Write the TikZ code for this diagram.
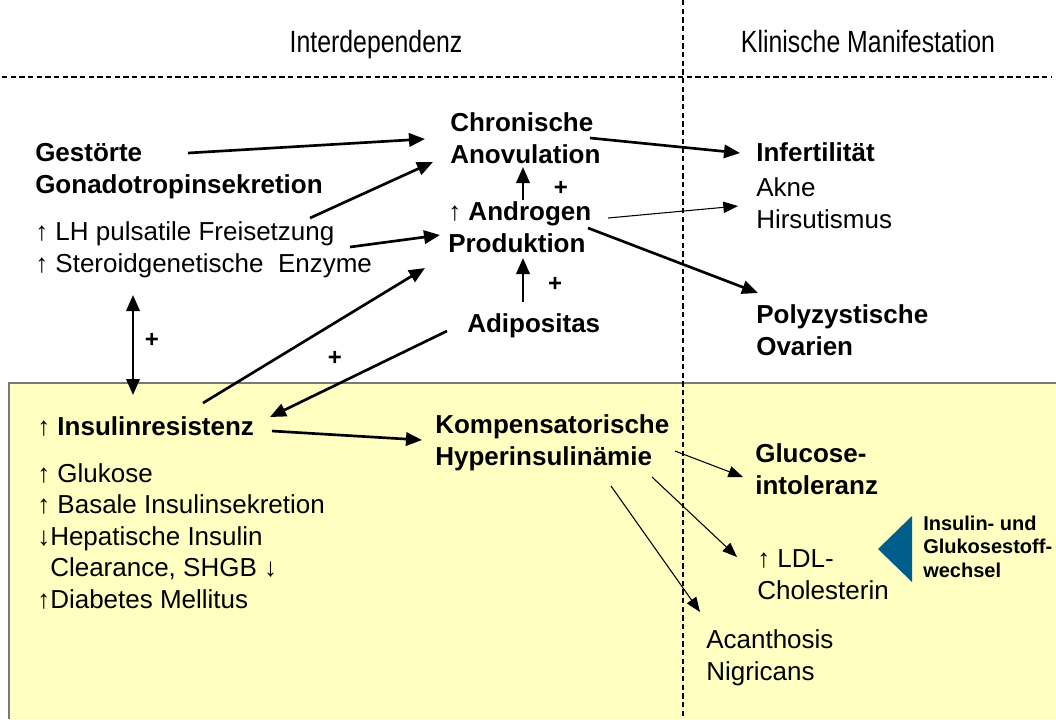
\documentclass[tikz,border=0pt]{standalone}
\usepackage{fontspec}
\setmainfont{Liberation Sans}
\newfontfamily\hdrfont[FakeStretch=0.81]{Liberation Sans}
\usetikzlibrary{arrows.meta}
\definecolor{boxyellow}{RGB}{255,255,194}
\definecolor{boxgray}{RGB}{120,120,120}
\definecolor{triblue}{RGB}{0,94,140}
\tikzset{
  txt/.style={anchor=base west, inner sep=0pt, align=left, font={\fontsize{19.5pt}{23.625pt}\selectfont}},
  btxt/.style={txt, font={\fontsize{19.5pt}{23.625pt}\selectfont\bfseries}},
  small/.style={anchor=base west, inner sep=0pt, align=left, font={\fontsize{15pt}{17.6pt}\selectfont\bfseries}},
  hdr/.style={anchor=base, inner sep=0pt, font={\hdrfont\fontsize{23pt}{26pt}\selectfont}},
  plus/.style={anchor=center, inner sep=0pt, font={\fontsize{18pt}{22pt}\selectfont\bfseries}},
  thickarr/.style={line width=2pt, -{Triangle[length=12pt,width=10pt]}},
  dblarr/.style={line width=2pt, {Triangle[length=12pt,width=10pt]}-{Triangle[length=12pt,width=10pt]}},
  thinarr/.style={line width=0.8pt, -{Triangle[length=11pt,width=8.5pt]}},
  dashline/.style={line width=0.8pt, dash pattern=on 4pt off 2.5pt},
}
\begin{document}
\begin{tikzpicture}[x=0.75pt,y=-0.75pt]
\useasboundingbox (0,0) rectangle (1056,719);
% yellow area
\fill[boxyellow] (9,383) rectangle (1056,719);
\draw[boxgray, line width=1.2pt] (9,719) -- (9,383) -- (1056,383);
% dashed separators
\draw[dashline] (683,0) -- (683,719);
\draw[dashline] (2,77) -- (1052,77);
% headers
\node[hdr] (hL) at (376,52) {Interdependenz};
\node[hdr] (hR) at (868,52) {Klinische Manifestation};
% text blocks (anchor = baseline of last line)
\node[btxt] (gest) at (35,193) {Gestörte\\Gonadotropinsekretion};
\node[txt] (lh) at (35,272) {↑ LH pulsatile Freisetzung\\↑ Steroidgenetische~ Enzyme};
\node[btxt] (chron) at (450,163) {Chronische\\Anovulation};
\node[btxt] (andro) at (448,252) {{\mdseries↑} Androgen\\Produktion};
\node[btxt] (adip) at (467,332) {Adipositas};
\node[btxt] (infert) at (756,161) {Infertilität};
\node[txt] (akne) at (756,228) {Akne\\Hirsutismus};
\node[btxt] (poly) at (756,355) {Polyzystische\\Ovarien};
\node[btxt] (insres) at (37,435) {{\mdseries↑} Insulinresistenz};
\node[txt] (glu) at (37,608) {↑ Glukose\\↑ Basale Insulinsekretion\\↓Hepatische Insulin\\\hspace*{9.75pt}Clearance, SHGB ↓\\↑Diabetes Mellitus};
\node[btxt] (kompen) at (435,465) {Kompensatorische\\Hyperinsulinämie};
\node[btxt] (gluc) at (755,494) {Glucose-\\intoleranz};
\node[txt] (ldl) at (757,599) {↑ LDL-\\Cholesterin};
\node[txt] (acan) at (706,680) {Acanthosis\\Nigricans};
\node[small] (stoff) at (923,577) {Insulin- und\\Glukosestoff-\\wechsel};
\fill[triblue] (878,549) -- (912,516) -- (912,582) -- cycle;
% plus signs
\node[plus] (p1) at (561,188) {+};
\node[plus] (p2) at (555,284) {+};
\node[plus] (p3) at (152,340) {+};
\node[plus] (p4) at (335,358) {+};
% connectors
\draw[thickarr] ([shift={(153,-40)}]gest.base west) -- ([shift={(-25,-24)}]chron.base west);
\draw[thickarr] ([shift={(275,-54)}]lh.base west) -- ([shift={(-17,-1)}]chron.base west);
\draw[thickarr] ([shift={(315,-25)}]lh.base west) -- ([shift={(-8,-17)}]andro.base west);
\draw[thickarr] ([shift={(166,-32)}]insres.base west) -- ([shift={(-23,16)}]andro.base west);
\draw[thickarr] ([shift={(-20,-1)}]adip.base west) -- ([shift={(233,-18)}]insres.base west);
\draw[dblarr] ([shift={(98,23)}]lh.base west) -- ([shift={(96,-40)}]insres.base west);
\draw[thickarr] ([shift={(75,-52)}]andro.base west) -- ([shift={(73,4)}]chron.base west);
\draw[thickarr] ([shift={(56,-30)}]adip.base west) -- ([shift={(75,6)}]andro.base west);
\draw[thickarr] ([shift={(140,-25)}]chron.base west) -- ([shift={(-16,-8)}]infert.base west);
\draw[thinarr] ([shift={(160,-34)}]andro.base west) -- ([shift={(-18,-22)}]akne.base west);
\draw[thickarr] ([shift={(140,-24)}]andro.base west) -- ([shift={(2,-62)}]poly.base west);
\draw[thickarr] ([shift={(235,-4)}]insres.base west) -- ([shift={(-13,-25)}]kompen.base west);
\draw[thinarr] ([shift={(240,-14)}]kompen.base west) -- ([shift={(-12,-17)}]gluc.base west);
\draw[thinarr] ([shift={(217,12)}]kompen.base west) -- ([shift={(-20,-42)}]ldl.base west);
\draw[thinarr] ([shift={(176,21)}]kompen.base west) -- ([shift={(-6,-68)}]acan.base west);
\end{tikzpicture}
\end{document}
